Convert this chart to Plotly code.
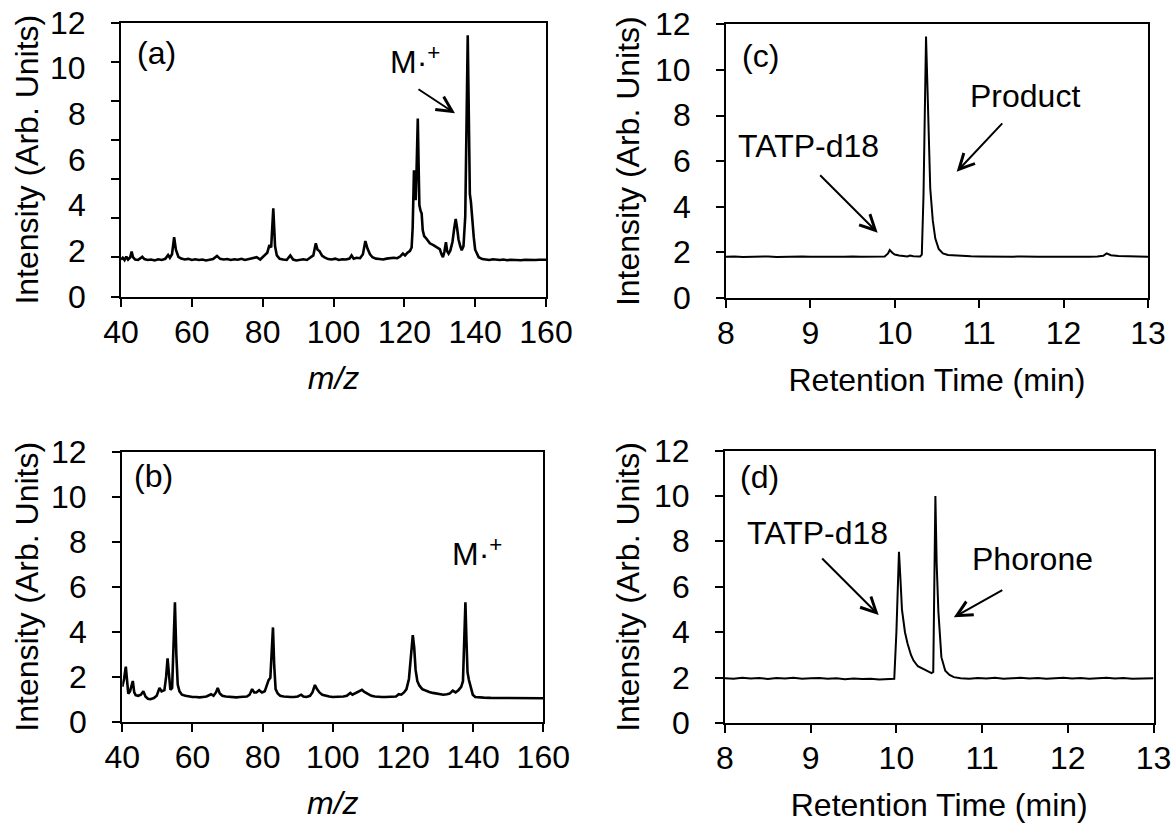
import plotly.graph_objects as go

# ---------------- data ----------------
# (a) mass spectrum, product
A_MZ = [40, 40.5, 41, 41.5, 42, 42.6, 43.0, 43.4, 44, 44.8, 45.5, 46, 46.6, 47.5, 48.5, 49.5, 50.5,
        51.5, 52.5, 53.3, 53.8, 54.4, 55.0, 55.5, 56.2, 57, 58, 59, 60, 61, 62, 63, 64, 65, 66, 67.1,
        68, 69, 70, 71, 72, 73, 74, 75, 76, 77, 78.3, 79.3, 80.5, 81.3, 81.9, 82.4, 83.0, 83.5, 84.0,
        84.8, 85.8, 86.8, 87.8, 88.6, 89.5, 90.5, 91.5, 92.5, 93.5, 94.3, 95.0, 95.5, 96.0, 96.8,
        97.6, 98.5, 99.5, 100.5, 101.5, 102.5, 103.5, 104.5, 105.1, 105.7, 106.5, 107.5, 108.3,
        109.0, 109.6, 110.3, 111.0, 112, 113, 114, 115, 116, 117, 118, 118.8, 119.6, 120.2, 120.9,
        121.6, 122.06, 122.35, 122.72, 122.95, 123.2, 123.45, 123.8, 124.05, 124.25, 124.6, 124.89,
        125.2, 125.6, 126.3, 127.2, 128.2, 129.2, 130.0, 130.5, 130.9, 131.3, 131.75, 132.1, 132.5,
        133.0, 133.6, 134.1, 134.5, 134.9, 135.3, 135.8, 136.2, 136.7, 137.2, 137.6, 137.9, 138.2,
        138.5, 138.8, 139.2, 139.6, 140.0, 140.5, 141, 142, 143, 144, 145, 146, 147, 148, 149, 150,
        151, 152, 153, 154, 155, 156, 157, 158, 159, 160]
A_INT = [1.62, 1.70, 1.60, 1.75, 1.62, 1.72, 1.97, 1.72, 1.62, 1.60, 1.68, 1.74, 1.64, 1.60, 1.62,
         1.58, 1.63, 1.60, 1.65, 1.82, 1.70, 1.85, 2.60, 2.05, 1.74, 1.66, 1.62, 1.65, 1.60, 1.63,
         1.60, 1.62, 1.58, 1.62, 1.64, 1.78, 1.65, 1.62, 1.64, 1.60, 1.63, 1.61, 1.65, 1.60, 1.63,
         1.66, 1.72, 1.62, 1.80, 1.92, 2.25, 2.15, 3.86, 2.20, 1.80, 1.65, 1.62, 1.60, 1.80, 1.62,
         1.58, 1.60, 1.63, 1.60, 1.70, 1.80, 2.33, 2.05, 2.00, 1.78, 1.70, 1.64, 1.62, 1.66, 1.60,
         1.63, 1.62, 1.66, 1.80, 1.66, 1.70, 1.68, 1.85, 2.43, 2.10, 1.85, 1.72, 1.66, 1.64, 1.62,
         1.66, 1.68, 1.70, 1.68, 1.75, 1.88, 1.80, 1.92, 2.00, 2.15, 3.00, 5.53, 5.00, 4.22, 5.50,
         7.80, 5.60, 4.00, 3.75, 3.64, 2.90, 2.65, 2.52, 2.33, 2.25, 2.15, 2.08, 1.85, 1.72, 1.95,
         2.38, 1.98, 1.88, 2.02, 2.40, 3.00, 3.40, 3.00, 2.50, 2.20, 2.03, 2.20, 3.50, 8.00, 11.45,
         8.00, 4.50, 4.15, 3.30, 2.60, 2.05, 1.85, 1.72, 1.64, 1.62, 1.60, 1.63, 1.61, 1.60, 1.62,
         1.59, 1.61, 1.60, 1.62, 1.59, 1.61, 1.60, 1.62, 1.60, 1.61, 1.60, 1.61]

# (b) mass spectrum, phorone
B_MZ = [40.0, 40.5, 41.0, 41.4, 41.7, 42.2, 42.7, 43.0, 43.4, 43.8, 44.5, 45.3, 46.0, 46.6, 47.3,
        48.0, 49.0, 49.8, 50.6, 51.2, 52.0, 52.5, 52.9, 53.3, 53.7, 54.2, 54.6, 55.0, 55.4, 55.8,
        56.3, 57.0, 58.0, 59.0, 60.0, 61.0, 62.0, 63.0, 64.0, 65.3, 66.0, 66.7, 67.2, 67.8, 68.5,
        69.5, 70.5, 71.5, 72.5, 73.5, 74.5, 75.5, 76.3, 77.0, 77.6, 78.2, 79.0, 79.8, 80.6, 81.2,
        81.7, 82.2, 82.6, 82.95, 83.3, 83.7, 84.3, 85.0, 86.0, 87.0, 88.0, 89.0, 90.0, 91.0, 91.6,
        92.5, 93.5, 94.2, 94.9, 95.5, 96.2, 97.0, 98.0, 99.0, 100.0, 101.0, 102.0, 103.0, 104.0,
        105.0, 105.6, 106.5, 107.5, 108.3, 109.0, 110.0, 111.0, 112.0, 113.0, 114.0, 115.0, 116.0,
        117.0, 118.0, 118.8, 119.5, 120.3, 121.0, 121.7, 122.3, 122.8, 123.2, 123.6, 124.1, 124.7,
        125.5, 126.5, 127.5, 128.5, 129.5, 130.5, 131.5, 132.5, 133.3, 134.2, 135.0, 135.8, 136.6,
        137.1, 137.5, 137.8, 138.1, 138.4, 138.8, 139.3, 139.9, 140.6, 141.5, 143, 145, 147, 149,
        151, 153, 155, 157, 160]
B_INT = [1.55, 1.90, 2.45, 1.50, 1.25, 1.35, 1.70, 1.81, 1.30, 1.18, 1.15, 1.20, 1.35, 1.12, 1.02,
         1.00, 1.05, 1.15, 1.50, 1.35, 1.40, 2.00, 2.82, 1.90, 1.42, 1.50, 3.20, 5.31, 3.00, 1.65,
         1.35, 1.20, 1.15, 1.12, 1.10, 1.10, 1.08, 1.10, 1.12, 1.22, 1.15, 1.30, 1.50, 1.25, 1.15,
         1.12, 1.10, 1.10, 1.08, 1.10, 1.12, 1.12, 1.20, 1.45, 1.30, 1.30, 1.40, 1.30, 1.35, 1.60,
         1.85, 1.95, 3.00, 4.19, 2.50, 1.45, 1.25, 1.15, 1.12, 1.10, 1.10, 1.10, 1.12, 1.20, 1.12,
         1.10, 1.15, 1.30, 1.63, 1.45, 1.30, 1.20, 1.15, 1.12, 1.10, 1.10, 1.10, 1.12, 1.15, 1.28,
         1.20, 1.28, 1.38, 1.42, 1.32, 1.22, 1.15, 1.12, 1.10, 1.10, 1.10, 1.10, 1.12, 1.12, 1.22,
         1.20, 1.30, 1.45, 1.90, 2.90, 3.85, 3.30, 2.30, 1.80, 1.60, 1.45, 1.38, 1.32, 1.28, 1.25,
         1.22, 1.20, 1.22, 1.25, 1.38, 1.30, 1.40, 1.55, 1.80, 3.50, 5.31, 3.60, 2.20, 1.85, 1.50,
         1.20, 1.10, 1.08, 1.07, 1.06, 1.06, 1.05, 1.05, 1.04, 1.05, 1.04, 1.04]

# (c) chromatogram, product
C_T = [8.0, 8.1, 8.2, 8.3, 8.4, 8.5, 8.6, 8.7, 8.8, 8.9, 9.0, 9.1, 9.2, 9.3, 9.4, 9.5, 9.6, 9.7,
       9.8, 9.88, 9.92, 9.94, 9.97, 10.0, 10.05, 10.1, 10.15, 10.18, 10.22, 10.3, 10.32, 10.34,
       10.355, 10.37, 10.385, 10.40, 10.42, 10.45, 10.48, 10.52, 10.57, 10.63, 10.7, 10.8, 10.9,
       11.0, 11.1, 11.2, 11.3, 11.4, 11.5, 11.6, 11.7, 11.8, 11.9, 12.0, 12.1, 12.2, 12.3, 12.4,
       12.47, 12.51, 12.56, 12.65, 12.8, 12.9, 13.0]
C_INT = [1.80, 1.82, 1.79, 1.81, 1.80, 1.82, 1.79, 1.81, 1.80, 1.82, 1.80, 1.81, 1.79, 1.81, 1.80,
         1.82, 1.80, 1.81, 1.80, 1.82, 1.95, 2.10, 1.98, 1.90, 1.86, 1.84, 1.82, 1.86, 1.83, 1.82,
         1.90, 4.50, 9.00, 11.46, 9.50, 6.80, 4.80, 3.40, 2.60, 2.15, 1.95, 1.88, 1.86, 1.84, 1.83,
         1.82, 1.81, 1.82, 1.80, 1.81, 1.82, 1.80, 1.81, 1.80, 1.82, 1.81, 1.80, 1.82, 1.81, 1.82,
         1.85, 1.95, 1.87, 1.84, 1.82, 1.81, 1.81]

# (d) chromatogram, phorone + TATP-d18
D_T = [8.0, 8.1, 8.2, 8.3, 8.4, 8.5, 8.6, 8.7, 8.8, 8.9, 9.0, 9.1, 9.2, 9.3, 9.4, 9.5, 9.6, 9.7,
       9.8, 9.9, 9.975, 10.0, 10.02, 10.03, 10.045, 10.065, 10.1, 10.13, 10.17, 10.2, 10.25, 10.3,
       10.36, 10.41, 10.43, 10.44, 10.455, 10.47, 10.49, 10.525, 10.57, 10.62, 10.67, 10.75, 10.85,
       10.95, 11.05, 11.15, 11.25, 11.35, 11.45, 11.55, 11.65, 11.75, 11.85, 11.95, 12.05, 12.15,
       12.25, 12.35, 12.45, 12.55, 12.65, 12.75, 12.85, 12.95, 13.0]
D_INT = [1.97, 1.95, 1.99, 1.96, 1.98, 1.94, 1.98, 1.96, 1.99, 1.95, 1.97, 1.98, 1.95, 1.97, 1.93,
         1.96, 1.94, 1.95, 1.92, 1.93, 1.95, 4.00, 7.00, 7.55, 6.50, 5.00, 4.00, 3.50, 3.00, 2.75,
         2.50, 2.40, 2.28, 2.20, 2.25, 6.00, 10.00, 7.00, 4.90, 2.90, 2.30, 2.12, 2.02, 1.97, 1.95,
         1.98, 1.96, 1.99, 1.95, 1.97, 1.99, 1.96, 1.98, 1.95, 1.97, 1.99, 1.96, 1.98, 1.95, 1.97,
         1.99, 1.96, 1.98, 1.95, 1.97, 1.96, 1.97]

MZ_TICKS = [40, 60, 80, 100, 120, 140, 160]
RT_TICKS = [8, 9, 10, 11, 12, 13]
INT_TICKS = [0, 2, 4, 6, 8, 10, 12]
INT_LABELS = ["0", "2", "4", "6", "8", "10", "12"]
A_TICK_MARKS = [0, 12 / 7, 24 / 7, 36 / 7, 48 / 7, 60 / 7, 72 / 7, 12]  # panel (a) tick marks
Y_TITLE = "Intensity (Arb. Units)"

# ---------------- figure ----------------
W, H = 1173, 829
FONT = "Arial, Liberation Sans, sans-serif"
FS = 32

def px_x(a, b):
    return [a / W, b / W]

def px_y(top, bottom):
    return [1 - bottom / H, 1 - top / H]

fig = go.Figure()
fig.add_trace(go.Scatter(x=A_MZ, y=A_INT, mode="lines", line=dict(color="black", width=2.6),
                         xaxis="x", yaxis="y", showlegend=False))
fig.add_trace(go.Scatter(x=B_MZ, y=B_INT, mode="lines", line=dict(color="black", width=2.6),
                         xaxis="x2", yaxis="y2", showlegend=False))
fig.add_trace(go.Scatter(x=C_T, y=C_INT, mode="lines", line=dict(color="black", width=2),
                         xaxis="x3", yaxis="y3", showlegend=False))
fig.add_trace(go.Scatter(x=D_T, y=D_INT, mode="lines", line=dict(color="black", width=2),
                         xaxis="x4", yaxis="y4", showlegend=False))

tickfont = dict(family=FONT, size=FS, color="black")
titlefont = dict(family=FONT, size=FS, color="black")

def xax(domain, anchor, rng, tickvals, title, italic=False):
    return dict(domain=domain, anchor=anchor, range=rng, tickvals=tickvals, automargin=False,
                showline=True, mirror=True, linecolor="black", linewidth=2,
                ticks="outside", ticklen=8, tickwidth=2, tickcolor="black",
                ticklabelstandoff=-2, tickfont=tickfont, showgrid=False, zeroline=False,
                title=dict(text=("<i>" + title + "</i>") if italic else title,
                           font=titlefont, standoff=18))

def yax(domain, anchor, tickvals):
    return dict(domain=domain, anchor=anchor, range=[0, 12], tickvals=tickvals, automargin=False,
                showline=True, mirror=True, linecolor="black", linewidth=2,
                ticks="outside", ticklen=8, tickwidth=2, tickcolor="black",
                showticklabels=False, showgrid=False, zeroline=False)

DOM_A = (px_x(121, 546), px_y(22.7, 296.5))
DOM_B = (px_x(122.3, 543.3), px_y(451.7, 721.7))
DOM_C = (px_x(726, 1148), px_y(24.3, 297.9))
DOM_D = (px_x(725, 1153.5), px_y(450.7, 723))

fig.update_layout(
    width=W, height=H, margin=dict(l=0, r=0, t=0, b=0),
    paper_bgcolor="white", plot_bgcolor="white",
    font=dict(family=FONT, size=FS, color="black"),
    xaxis=xax(DOM_A[0], "y", [40, 160], MZ_TICKS, "m/z", italic=True),
    yaxis=yax(DOM_A[1], "x", A_TICK_MARKS),
    xaxis2=xax(DOM_B[0], "y2", [40, 160], MZ_TICKS, "m/z", italic=True),
    yaxis2=yax(DOM_B[1], "x2", INT_TICKS),
    xaxis3=xax(DOM_C[0], "y3", [8, 13], RT_TICKS, "Retention Time (min)"),
    yaxis3=yax(DOM_C[1], "x3", INT_TICKS),
    xaxis4=xax(DOM_D[0], "y4", [8, 13], RT_TICKS, "Retention Time (min)"),
    yaxis4=yax(DOM_D[1], "x4", INT_TICKS),
)

# y tick labels (right-aligned, 33 px left of each axis line) and rotated y titles
for yref, axis_left, title_x, dom in [("y", 121, 27, DOM_A), ("y2", 122.3, 27, DOM_B),
                                       ("y3", 726, 628, DOM_C), ("y4", 725, 628, DOM_D)]:
    for val, txt in zip(INT_TICKS, INT_LABELS):
        fig.add_annotation(text=txt, x=(axis_left - 33) / W, y=val, xref="paper", yref=yref,
                           showarrow=False, xanchor="right", yanchor="middle", font=tickfont)
    fig.add_annotation(text=Y_TITLE, textangle=-90, x=title_x / W, y=(dom[1][0] + dom[1][1]) / 2,
                       xref="paper", yref="paper", showarrow=False,
                       xanchor="center", yanchor="middle", font=titlefont)

def label(text, x, y, xref, yref, xanchor="center"):
    fig.add_annotation(text=text, x=x, y=y, xref=xref, yref=yref, showarrow=False,
                       xanchor=xanchor, yanchor="middle",
                       font=dict(family=FONT, size=FS, color="black"))

def arrow(x, y, ax, ay, xref, yref):
    fig.add_annotation(text="", x=x, y=y, xref=xref, yref=yref, ax=ax, ay=ay,
                       showarrow=True, arrowhead=5, arrowsize=1.5, arrowwidth=2,
                       arrowcolor="black", standoff=0)

# panel (a)
label("(a)", 43.95, 10.68, "x", "y", "left")
label("M·<sup>+</sup>", 123.0, 10.37, "x", "y")
arrow(134.3, 8.03, -38, -25, "x", "y")
# panel (b)
label("(b)", 42.77, 10.9, "x2", "y2", "left")
label("M·<sup>+</sup>", 141.0, 7.56, "x2", "y2")
# panel (c)
label("(c)", 8.166, 10.63, "x3", "y3", "left")
label("Product", 11.543, 8.85, "x3", "y3")
arrow(10.733, 5.53, 47, -50, "x3", "y3")
label("TATP-d18", 8.972, 6.66, "x3", "y3")
arrow(9.797, 2.86, -59, -59, "x3", "y3")
# panel (d)
label("(d)", 8.152, 10.82, "x4", "y4", "left")
label("TATP-d18", 9.076, 8.36, "x4", "y4")
arrow(9.793, 4.76, -58, -58, "x4", "y4")
label("Phorone", 11.591, 7.22, "x4", "y4")
arrow(10.67, 4.66, 50, -28, "x4", "y4")

fig.write_html("out.html", config={"displayModeBar": False},
               post_script="document.body.style.margin='0';")
